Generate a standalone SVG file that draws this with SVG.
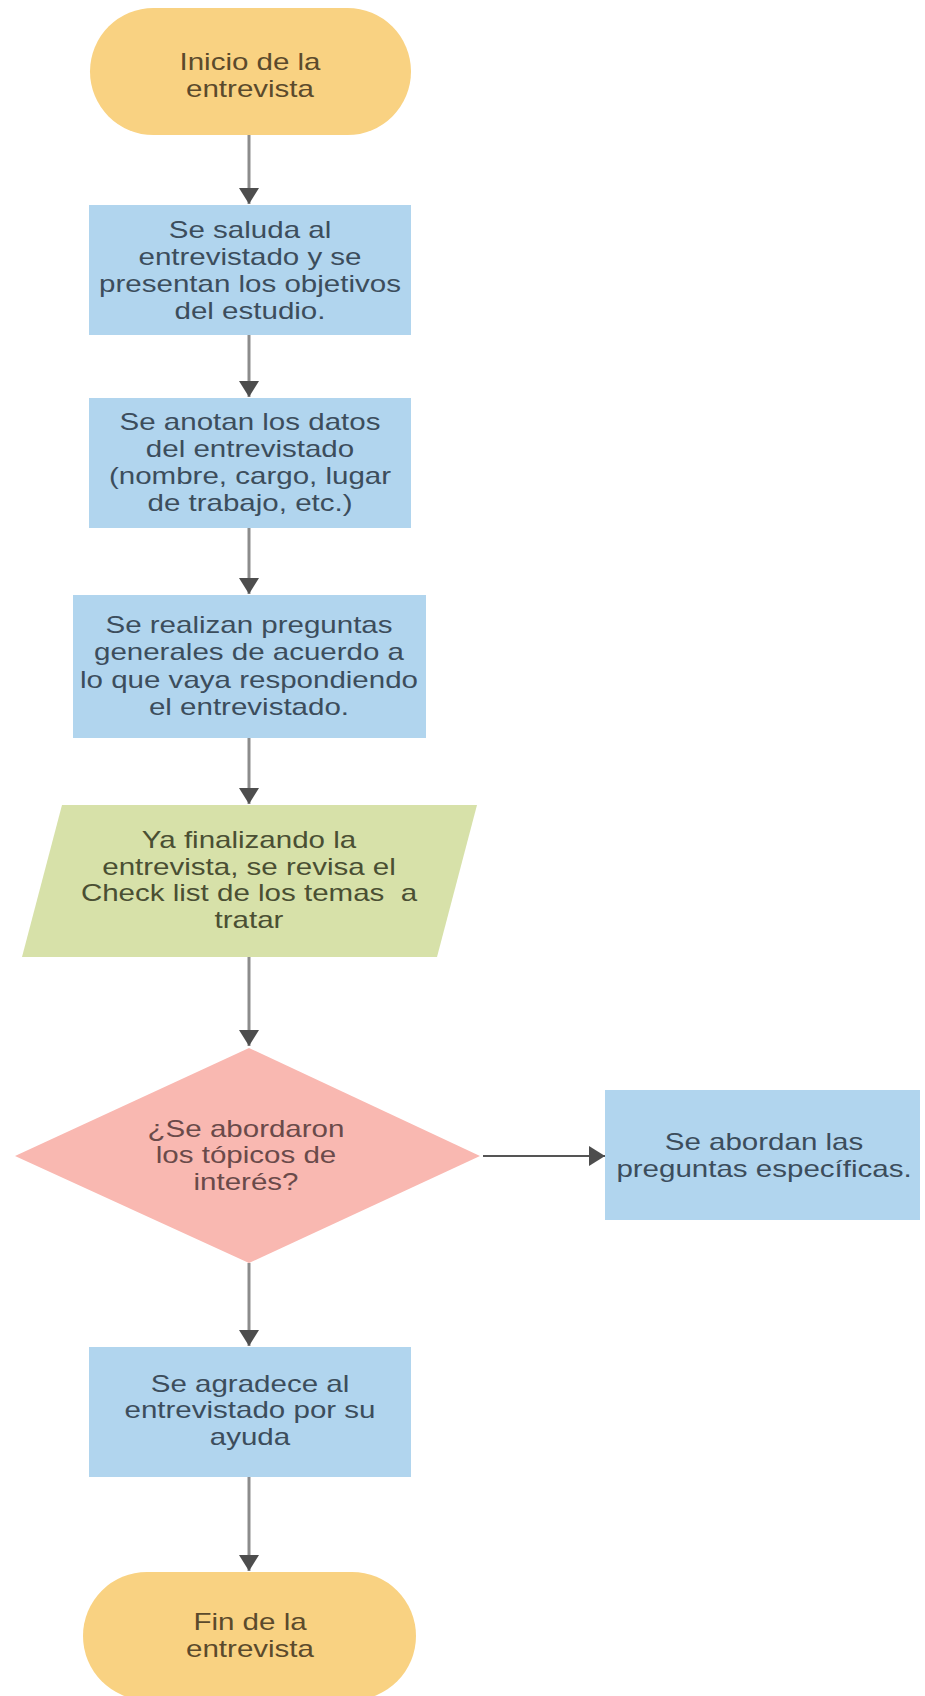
<svg xmlns="http://www.w3.org/2000/svg" width="925" height="1696" viewBox="0 0 925 1696">
<style>
.t{font-family:"Liberation Sans",Arial,sans-serif;font-size:24px;text-anchor:middle}
.term{fill:#F9D282}
.proc{fill:#B1D5EE}
.io{fill:#D7E1A9}
.dec{fill:#F9B8B1}
.tt{fill:#5b4a2c}
.tp{fill:#3c4d5c}
.ti{fill:#4a4f33}
.td{fill:#6a4a4a}
.c{fill:none;stroke:#8c8c8c;stroke-width:3}
.ch{fill:none;stroke:#555;stroke-width:2}
</style>
<defs>
<marker id="ah" viewBox="0 0 16 20" markerWidth="16" markerHeight="20" refX="16" refY="10" orient="auto" markerUnits="userSpaceOnUse">
<path d="M0,0 L16,10 L0,20 z" fill="#4d4d4d"/>
</marker>
</defs>
<rect width="925" height="1696" fill="#ffffff"/>
<g id="connectors">
<path class="c" d="M249,135 V204" marker-end="url(#ah)"/>
<path class="c" d="M249,335 V397" marker-end="url(#ah)"/>
<path class="c" d="M249,528 V594" marker-end="url(#ah)"/>
<path class="c" d="M249,738 V804" marker-end="url(#ah)"/>
<path class="c" d="M249,957 V1046" marker-end="url(#ah)"/>
<path class="c" d="M249,1263 V1346" marker-end="url(#ah)"/>
<path class="c" d="M249,1477 V1571" marker-end="url(#ah)"/>
<path class="ch" d="M483,1156 H605" marker-end="url(#ah)"/>
</g>
<g id="start">
<rect class="term" x="90" y="8" width="321" height="127" rx="63.5" ry="63.5"/>
<g transform="translate(250 0) scale(1.23 1)">
<text class="t tt" x="0" y="70">Inicio de la</text>
<text class="t tt" x="0" y="97">entrevista</text>
</g>
</g>
<g id="saludo">
<rect class="proc" x="89" y="205" width="322" height="130"/>
<g transform="translate(250 0) scale(1.23 1)">
<text class="t tp" x="0" y="238">Se saluda al</text>
<text class="t tp" x="0" y="265">entrevistado y se</text>
<text class="t tp" x="0" y="292">presentan los objetivos</text>
<text class="t tp" x="0" y="319">del estudio.</text>
</g>
</g>
<g id="datos">
<rect class="proc" x="89" y="398" width="322" height="130"/>
<g transform="translate(250 0) scale(1.23 1)">
<text class="t tp" x="0" y="430">Se anotan los datos</text>
<text class="t tp" x="0" y="457">del entrevistado</text>
<text class="t tp" x="0" y="484">(nombre, cargo, lugar</text>
<text class="t tp" x="0" y="511">de trabajo, etc.)</text>
</g>
</g>
<g id="generales">
<rect class="proc" x="73" y="595" width="353" height="143"/>
<g transform="translate(249 0) scale(1.23 1)">
<text class="t tp" x="0" y="633">Se realizan preguntas</text>
<text class="t tp" x="0" y="660">generales de acuerdo a</text>
<text class="t tp" x="0" y="688">lo que vaya respondiendo</text>
<text class="t tp" x="0" y="715">el entrevistado.</text>
</g>
</g>
<g id="checklist">
<polygon class="io" points="62,805 477,805 437,957 22,957"/>
<g transform="translate(249 0) scale(1.23 1)">
<text class="t ti" x="0" y="848">Ya finalizando la</text>
<text class="t ti" x="0" y="875">entrevista, se revisa el</text>
<text class="t ti" x="0" y="901" xml:space="preserve">Check list de los temas  a</text>
<text class="t ti" x="0" y="928">tratar</text>
</g>
</g>
<g id="decision">
<polygon class="dec" points="249,1048 480,1156 249,1263 15,1156"/>
<g transform="translate(246 0) scale(1.23 1)">
<text class="t td" x="0" y="1137">¿Se abordaron</text>
<text class="t td" x="0" y="1163">los tópicos de</text>
<text class="t td" x="0" y="1190">interés?</text>
</g>
</g>
<g id="especificas">
<rect class="proc" x="605" y="1090" width="315" height="130"/>
<g transform="translate(764 0) scale(1.23 1)">
<text class="t tp" x="0" y="1150">Se abordan las</text>
<text class="t tp" x="0" y="1177">preguntas específicas.</text>
</g>
</g>
<g id="agradece">
<rect class="proc" x="89" y="1347" width="322" height="130"/>
<g transform="translate(250 0) scale(1.23 1)">
<text class="t tp" x="0" y="1392">Se agradece al</text>
<text class="t tp" x="0" y="1418">entrevistado por su</text>
<text class="t tp" x="0" y="1445">ayuda</text>
</g>
</g>
<g id="fin">
<rect class="term" x="83" y="1572" width="333" height="128" rx="64" ry="64"/>
<g transform="translate(250 0) scale(1.23 1)">
<text class="t tt" x="0" y="1630">Fin de la</text>
<text class="t tt" x="0" y="1657">entrevista</text>
</g>
</g>
</svg>
